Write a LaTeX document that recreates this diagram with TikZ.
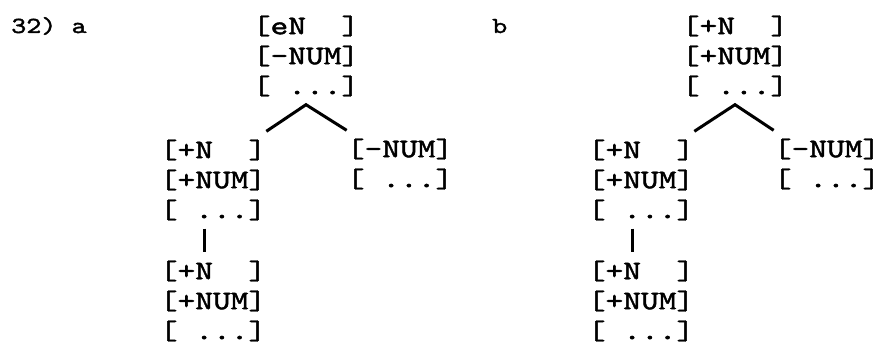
\documentclass[tikz,border=0pt]{standalone}
\usepackage{fontspec}
\newfontfamily\courfont[FakeStretch=1.25,FakeBold=1.6]{lmmono10-regular.otf}
\usetikzlibrary{positioning}
\newcommand{\feat}[1]{{[}#1{]}}
\tikzset{
  featnode/.style={font=\fontsize{27}{30}\selectfont\courfont, align=left, inner xsep=0pt, inner ysep=8pt},
  labelnode/.style={font=\fontsize{23}{24}\selectfont\courfont, inner sep=0pt, anchor=base west},
  branch/.style={line width=3pt}
}
\begin{document}
\begin{tikzpicture}[x=1pt,y=-1pt]
  \useasboundingbox (0,0) rectangle (879,345);
  \node[labelnode] (lbla) at (11,33) {32)~a};
  \node[labelnode] (lblb) at (492,33) {b};
  % tree a
  \node[featnode] (topa) at (306,56) {\feat{eN~~}\\\feat{–NUM}\\\feat{~...}};
  \node[featnode] (lefta) at (213,180) {\feat{+N~~}\\\feat{+NUM}\\\feat{~...}};
  \node[featnode] (righta) at (400,164) {\feat{–NUM}\\\feat{~...}};
  \node[featnode] (bota) at (213,301) {\feat{+N~~}\\\feat{+NUM}\\\feat{~...}};
  \draw[branch] (lefta.north east) -- (topa.south) -- (righta.north west);
  \draw[branch] ([xshift=-9pt]lefta.south) -- ([xshift=-9pt]bota.north);
  % tree b
  \node[featnode] (topb) at (735,56) {\feat{+N~~}\\\feat{+NUM}\\\feat{~...}};
  \node[featnode] (leftb) at (641,180) {\feat{+N~~}\\\feat{+NUM}\\\feat{~...}};
  \node[featnode] (rightb) at (827,164) {\feat{–NUM}\\\feat{~...}};
  \node[featnode] (botb) at (641,301) {\feat{+N~~}\\\feat{+NUM}\\\feat{~...}};
  \draw[branch] (leftb.north east) -- (topb.south) -- (rightb.north west);
  \draw[branch] ([xshift=-9pt]leftb.south) -- ([xshift=-9pt]botb.north);
\end{tikzpicture}
\end{document}
